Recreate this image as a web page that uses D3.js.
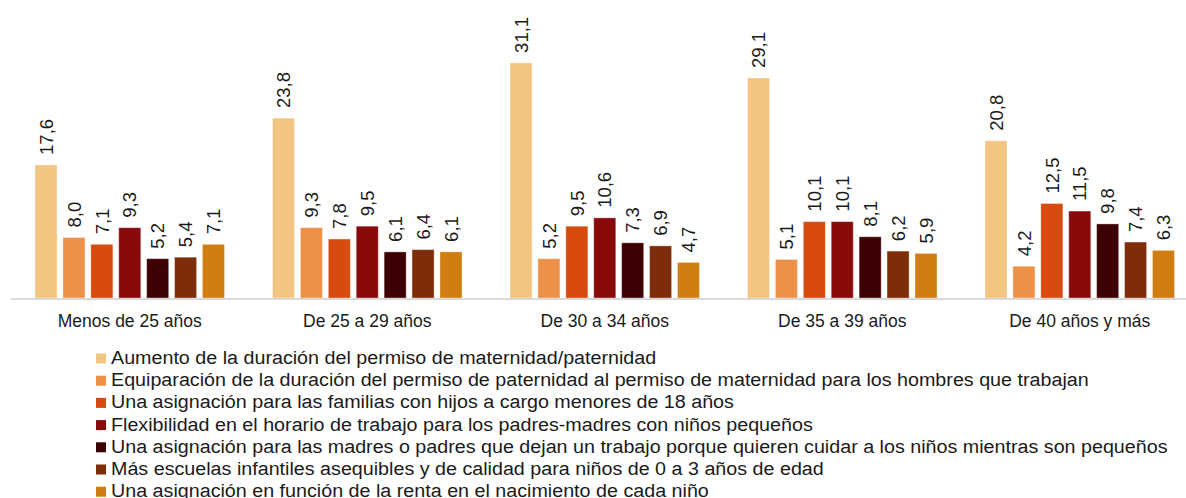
<!DOCTYPE html>
<html>
<head>
<meta charset="utf-8">
<script src="https://cdn.jsdelivr.net/npm/d3@7"></script>
<style>
  body { margin: 0; background: #fff; }
  text { font-family: "Liberation Sans", Arial, sans-serif; fill: #1a1a1a; }
</style>
</head>
<body>
<script>
// age groups (x axis)
var groups = ["Menos de 25 años", "De 25 a 29 años", "De 30 a 34 años", "De 35 a 39 años", "De 40 años y más"];

// measures (legend)
var measures = [
  "Aumento de la duración del permiso de maternidad/paternidad",
  "Equiparación de la duración del permiso de paternidad al permiso de maternidad para los hombres que trabajan",
  "Una asignación para las familias con hijos a cargo menores de 18 años",
  "Flexibilidad en el horario de trabajo para los padres-madres con niños pequeños",
  "Una asignación para las madres o padres que dejan un trabajo porque quieren cuidar a los niños mientras son pequeños",
  "Más escuelas infantiles asequibles y de calidad para niños de 0 a 3 años de edad",
  "Una asignación en función de la renta en el nacimiento de cada niño"
];

// one array per measure, in the order of groups
var aumento      = [17.6, 23.8, 31.1, 29.1, 20.8];
var equiparacion = [8.0, 9.3, 5.2, 5.1, 4.2];
var asigHijos    = [7.1, 7.8, 9.5, 10.1, 12.5];
var flexibilidad = [9.3, 9.5, 10.6, 10.1, 11.5];
var asigDejan    = [5.2, 6.1, 7.3, 8.1, 9.8];
var escuelas     = [5.4, 6.4, 6.9, 6.2, 7.4];
var asigRenta    = [7.1, 6.1, 4.7, 5.9, 6.3];

var seriesValues = [aumento, equiparacion, asigHijos, flexibilidad, asigDejan, escuelas, asigRenta];

var colors = ["#F3C583", "#ED9149", "#D74B10", "#890A0B", "#3C0005", "#7D2D0A", "#D07E12"];

var width = 1186, height = 498;

var svg = d3.select("body").append("svg")
    .attr("width", width)
    .attr("height", height);

// scales
var x0 = d3.scaleBand().domain(groups).range([11, 1198.5]).padding(0);
var x1 = d3.scaleBand().domain(d3.range(measures.length))
    .range([24, x0.bandwidth() - 24])
    .paddingInner(0.21).paddingOuter(0);
var y = d3.scaleLinear().domain([0, 35]).range([298, 298 - 35 * 7.56]);

var fmt = function(v) { return d3.format(".1f")(v).replace(".", ","); };

// flatten for drawing
var rows = [];
groups.forEach(function(g, gi) {
  seriesValues.forEach(function(s, si) {
    rows.push({group: g, s: si, value: s[gi]});
  });
});

// bars
svg.append("g").selectAll("rect")
    .data(rows)
    .enter().append("rect")
    .attr("x", function(d) { return x0(d.group) + x1(d.s); })
    .attr("y", function(d) { return y(d.value); })
    .attr("width", x1.bandwidth())
    .attr("height", function(d) { return y(0) - y(d.value); })
    .style("fill", function(d) { return colors[d.s]; })
    .style("stroke", "#fff")
    .style("stroke-opacity", 0.35)
    .style("stroke-width", 1);

// value labels (rotated)
svg.append("g").selectAll("text")
    .data(rows)
    .enter().append("text")
    .attr("transform", function(d) {
      var cx = x0(d.group) + x1(d.s) + x1.bandwidth() / 2;
      return "translate(" + cx + "," + (y(d.value) - 10) + ") rotate(-90)";
    })
    .attr("dy", "0.36em")
    .style("font-size", "18.5px")
    .style("text-anchor", "start")
    .text(function(d) { return fmt(d.value); });

// axis line
svg.append("line")
    .attr("x1", 11).attr("x2", width)
    .attr("y1", y(0) + 1).attr("y2", y(0) + 1)
    .style("stroke", "#d9d9d9")
    .style("stroke-width", 2);

// category labels
svg.append("g").selectAll("text")
    .data(groups)
    .enter().append("text")
    .attr("x", function(d) { return x0(d) + x0.bandwidth() / 2; })
    .attr("y", 327)
    .style("font-size", "17.5px")
    .style("text-anchor", "middle")
    .text(function(d) { return d; });

// legend
var legend = svg.selectAll(".legend")
    .data(measures)
    .enter().append("g")
    .attr("class", "legend")
    .attr("transform", function(d, i) { return "translate(96," + (353.5 + i * 22.2) + ")"; });

legend.append("rect")
    .attr("width", 10)
    .attr("height", 10)
    .style("fill", function(d, i) { return colors[i]; });

// legend text is a bit wider than plain Arial in the original
var stretch = 1.095;
legend.append("text")
    .attr("transform", "translate(15,10.5) scale(" + stretch + ",1)")
    .style("font-size", "18px")
    .text(function(d) { return d; });
</script>
</body>
</html>
